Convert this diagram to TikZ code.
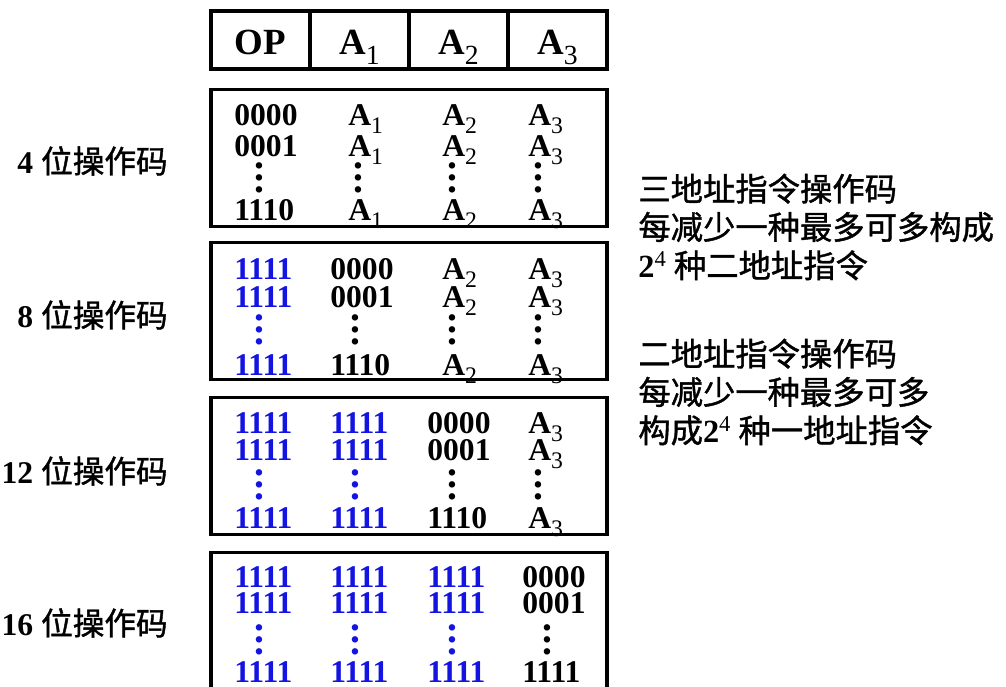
\documentclass[tikz,border=0pt]{standalone}
\usepackage{fontspec}
\setmainfont{Liberation Serif}
\newfontfamily\cjk[FakeBold=1.2]{Noto Sans CJK SC}
\usetikzlibrary{positioning}
\definecolor{opblue}{RGB}{20,20,225}
\newcommand{\Asub}[1]{A\raisebox{-0.27em}{\mdseries\scalebox{0.75}{#1}}}
\newcommand{\vdts}{\vbox{\baselineskip=6.8pt\lineskiplimit=-20pt\hbox{\scalebox{1.25}{.}}\hbox{\scalebox{1.25}{.}}\hbox{\scalebox{1.25}{.}}}}

\begin{document}
\begin{tikzpicture}[
    x=0.02cm, y=-0.02cm,
    font=\fontsize{18}{21}\selectfont\bfseries,
    field/.style={rectangle, draw, line width=2pt, inner sep=0pt, outer sep=0pt, minimum width=1.98cm, minimum height=1.16cm, text height=21pt, text depth=4pt, font=\fontsize{21}{24}\selectfont\bfseries},
    frame/.style={rectangle, draw, line width=2pt, minimum width=7.92cm, minimum height=2.74cm},
    code/.style={anchor=base west, inner sep=0pt},
    blue code/.style={code, text=opblue},
    addr/.style={anchor=base west, inner sep=0pt},
    dots/.style={inner sep=0pt},
    blue dots/.style={dots, text=opblue},
    oplen/.style={anchor=base east, inner sep=0pt},
    note/.style={anchor=west, align=left, inner sep=0pt, font=\fontsize{18.4}{21.8}\selectfont\mdseries\cjk}
  ]
  \clip (0,0) rectangle (1006,686);

  % Instruction format
  \node[field] (op) at (260.5,40) {OP};
  \node[field, right=0pt of op] (a1) {\Asub{1}};
  \node[field, right=0pt of a1] (a2) {\Asub{2}};
  \node[field, right=0pt of a2] (a3) {\Asub{3}};

  % Opcode groups
  \foreach \bx/\y in {1/158, 2/311, 3/466, 4/621}
    \node[frame] (box\bx) at (409,\y) {};

  \foreach \bx/\ya/\yb/\yc/\yd in {1/125/156/220/178, 2/279/307/375/330, 3/433/460/528/485, 4/587/613/682/640} {
    \foreach \cl/\xd/\xa in {1/234/0, 2/330/348, 3/427/442, 4/522/528} {
      \ifnum\cl<\bx
        \node[blue code] (n\bx\cl a) at (\xd,\ya) {1111};
        \node[blue code] (n\bx\cl b) at (\xd,\yb) {1111};
        \node[blue dots] (n\bx\cl d) at (\xd+25,\yd) {\vdts};
        \node[blue code] (n\bx\cl c) at (\xd,\yc) {1111};
      \else\ifnum\cl=\bx
        \node[code] (n\bx\cl a) at (\xd,\ya) {0000};
        \node[code] (n\bx\cl b) at (\xd,\yb) {0001};
        \node[dots] (n\bx\cl d) at (\xd+25,\yd) {\vdts};
        \node[code] (n\bx\cl c) at (\xd,\yc) {\ifnum\bx=4 1111\else 1110\fi};
      \else
        \node[addr] (n\bx\cl a) at (\xa,\ya) {\Asub{\the\numexpr\cl-1\relax}};
        \node[addr] (n\bx\cl b) at (\xa,\yb) {\Asub{\the\numexpr\cl-1\relax}};
        \node[dots] (n\bx\cl d) at (\xa+10,\yd) {\vdts};
        \node[addr] (n\bx\cl c) at (\xa,\yc) {\Asub{\the\numexpr\cl-1\relax}};
      \fi\fi
    }
  }

  % Opcode lengths
  \foreach \len/\y in {4/173, 8/327, 12/483, 16/635}
    \node[oplen] (len\len) at (168,\y) {\len\ {\mdseries\cjk 位操作码}};

  % Notes
  \node[note] (note3) at (638,227) {三地址指令操作码\\每减少一种最多可多构成\\{\rmfamily\bfseries 2\textsuperscript{\mdseries 4}} 种二地址指令};
  \node[note] (note2) at (638,392) {二地址指令操作码\\每减少一种最多可多\\构成{\rmfamily\bfseries 2\textsuperscript{\mdseries 4}} 种一地址指令};
\end{tikzpicture}
\end{document}
